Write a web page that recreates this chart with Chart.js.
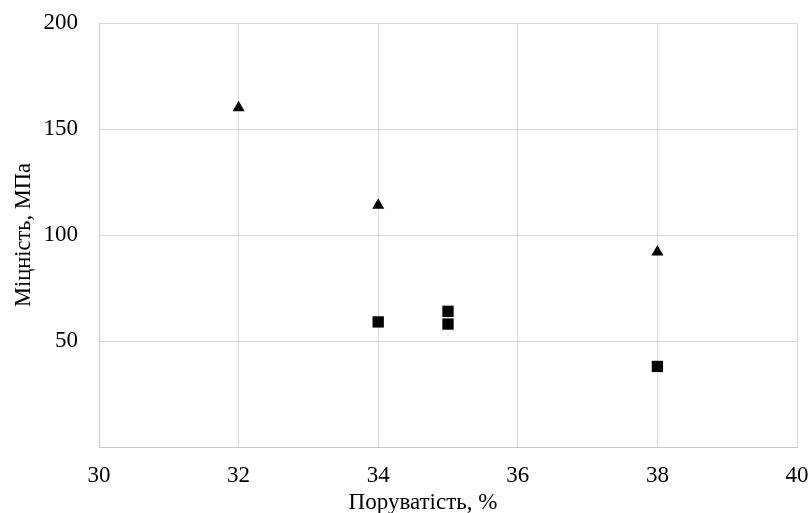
<!DOCTYPE html>
<html>
<head>
<meta charset="utf-8">
<script src="https://cdn.jsdelivr.net/npm/chart.js@4"></script>
<style>
  html, body { margin: 0; padding: 0; background: #fff; }
  #wrap { width: 810px; height: 513px; }
</style>
</head>
<body>
<div id="wrap"><canvas id="strengthChart" width="810" height="513"></canvas></div>
<script>
// porosity (%) vs strength (MPa)
const triPorosity = [32, 34, 38];
const triStrength = [160, 114, 92];
const sqPorosity = [34, 35, 35, 38];
const sqStrength = [59, 64, 58, 38];

const xTitle = 'Поруватість, %';
const yTitle = 'Міцність, МПа';

const serif = 'Liberation Serif';
const gridColor = '#d9d9d9';

function toPoints(xs, ys) {
    return xs.map((x, i) => ({ x: x, y: ys[i] }));
}

// the x title in the original sits a bit left of the plot centre, so draw it by hand
const xTitlePlugin = {
    id: 'xTitlePlugin',
    afterDraw(chart) {
        const ctx = chart.ctx;
        const area = chart.chartArea;
        ctx.save();
        ctx.font = '23px "' + serif + '"';
        ctx.fillStyle = '#000';
        ctx.textAlign = 'center';
        ctx.textBaseline = 'alphabetic';
        ctx.fillText(xTitle, (area.left + area.right) / 2 - 25, chart.height - 4.5);
        ctx.restore();
    }
};

new Chart(document.getElementById('strengthChart'), {
    type: 'scatter',
    data: {
        datasets: [
            {
                label: 'triangles',
                data: toPoints(triPorosity, triStrength),
                pointStyle: 'triangle',
                pointRadius: 7,
                backgroundColor: '#000',
                borderColor: '#000',
                borderWidth: 0
            },
            {
                label: 'squares',
                data: toPoints(sqPorosity, sqStrength),
                pointStyle: 'rect',
                pointRadius: 8,
                backgroundColor: '#000',
                borderColor: '#000',
                borderWidth: 0
            }
        ]
    },
    options: {
        responsive: false,
        animation: false,
        layout: { padding: { left: 0, right: 13, top: 23, bottom: 0 } },
        plugins: {
            legend: { display: false },
            tooltip: { enabled: false }
        },
        scales: {
            x: {
                type: 'linear',
                min: 30,
                max: 40,
                ticks: {
                    stepSize: 2,
                    padding: 15,
                    color: '#000',
                    font: { family: serif, size: 23 }
                },
                grid: { color: gridColor, drawTicks: false },
                border: { color: '#c8c8c8' },
                title: { display: false },
                afterFit: function (scale) {
                    scale.height = 66;
                    scale.paddingLeft = 0;
                    scale.paddingRight = 0;
                }
            },
            y: {
                type: 'linear',
                min: 0,
                max: 200,
                ticks: {
                    stepSize: 50,
                    padding: 21,
                    color: '#000',
                    font: { family: serif, size: 23 },
                    callback: function (v) { return v === 0 ? '' : v; }
                },
                grid: { color: gridColor, drawTicks: false },
                border: { color: '#c8c8c8' },
                title: {
                    display: true,
                    text: yTitle,
                    color: '#000',
                    font: { family: serif, size: 22.5 },
                    padding: { top: 11, bottom: 0 }
                },
                afterFit: function (scale) {
                    scale.width = 99;
                    scale.paddingTop = 0;
                    scale.paddingBottom = 0;
                }
            }
        }
    },
    plugins: [xTitlePlugin]
});
</script>
</body>
</html>
